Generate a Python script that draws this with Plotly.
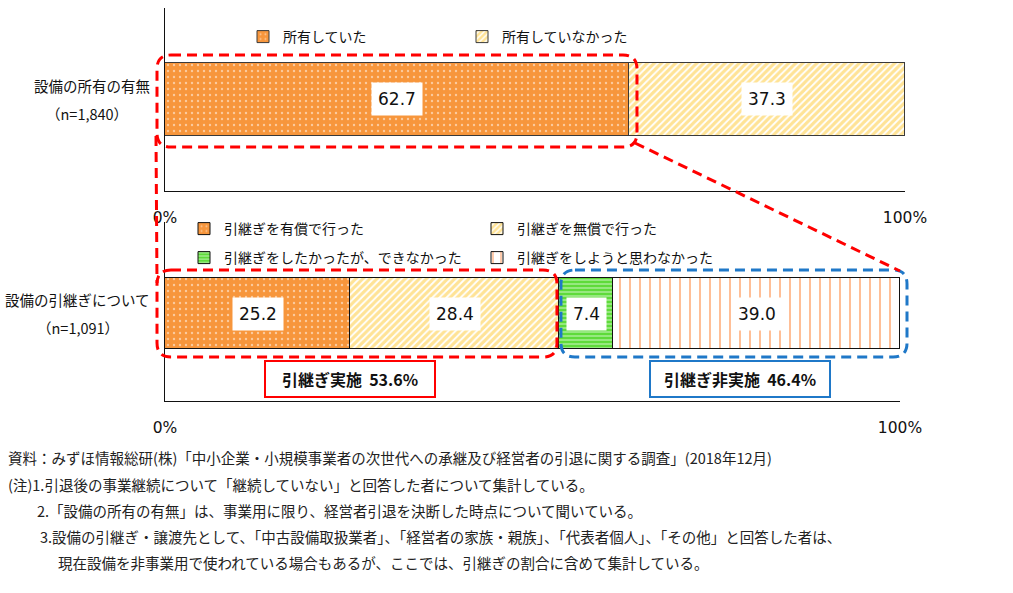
import plotly.graph_objects as go

W, H = 1013, 593

# ---------------- data ----------------
own_labels = ["所有していた", "所有していなかった"]
own_values = [62.7, 37.3]
succ_labels = ["引継ぎを有償で行った", "引継ぎを無償で行った",
               "引継ぎをしたかったが、できなかった", "引継ぎをしようと思わなかった"]
succ_values = [25.2, 28.4, 7.4, 39.0]
row_titles = ["設備の所有の有無", "設備の引継ぎについて"]
row_ns = ["（n=1,840）", "（n=1,091）"]
tick_vals = [0, 100]
tick_text = ["0%", "100%"]
group_titles = ["引継ぎ実施", "引継ぎ非実施"]
notes = [
    "資料：みずほ情報総研(株)「中小企業・小規模事業者の次世代への承継及び経営者の引退に関する調査」(2018年12月)",
    "(注)1.引退後の事業継続について「継続していない」と回答した者について集計している。",
    "2.「設備の所有の有無」は、事業用に限り、経営者引退を決断した時点について聞いている。",
    "3.設備の引継ぎ・譲渡先として、「中古設備取扱業者」、「経営者の家族・親族」、「代表者個人」、「その他」と回答した者は、",
    "現在設備を非事業用で使われている場合もあるが、ここでは、引継ぎの割合に含めて集計している。",
]

# ---------------- styles ----------------
JP = "Noto Sans CJK JP, Noto Sans, sans-serif"
NUM = "DejaVu Sans, Noto Sans CJK JP, sans-serif"
ORANGE = "#F7963C"
YELLOW = "#FFC82E"
GREEN = "#5EDB3A"
LINE_ORANGE = "#FF8030"
EDGE = "#3A3A3A"
RED = "#FF0000"
BLUE = "#1F78C8"

own_styles = [
    dict(color=ORANGE, pattern=dict(shape=".", bgcolor=ORANGE, fgcolor="white", size=6, solidity=0.12)),
    dict(color=YELLOW, pattern=dict(shape="/", bgcolor="white", fgcolor=YELLOW, size=5, solidity=0.65)),
]
succ_styles = [
    dict(color=ORANGE, pattern=dict(shape=".", bgcolor=ORANGE, fgcolor="white", size=6, solidity=0.12)),
    dict(color=YELLOW, pattern=dict(shape="/", bgcolor="white", fgcolor=YELLOW, size=5, solidity=0.65)),
    dict(color=GREEN, pattern=dict(shape="-", bgcolor=GREEN, fgcolor="white", size=4, solidity=0.35)),
    dict(color="white", pattern=dict(shape="|", bgcolor="white", fgcolor=LINE_ORANGE, size=10, solidity=0.2)),
]
succ_legends = ["legend2", "legend2", "legend3", "legend3"]


def px(x):
    return x / W


def py(y):
    return 1 - y / H


# plot area in pixels
TOP = dict(x0=165, x1=905, y0=8, y1=191)
BOT = dict(x0=165, x1=900, y0=222, y1=401)


def tx(v, area):
    return area["x0"] + v / 100 * (area["x1"] - area["x0"])


fig = go.Figure()

for lab, val, st in zip(own_labels, own_values, own_styles):
    fig.add_trace(go.Bar(
        x=[val], y=[0], orientation="h", name=lab, width=1,
        marker=dict(color=st["color"], pattern=st["pattern"], line=dict(color=EDGE, width=1)),
        xaxis="x", yaxis="y", legend="legend", hoverinfo="name+x",
    ))

for lab, val, st, lg in zip(succ_labels, succ_values, succ_styles, succ_legends):
    fig.add_trace(go.Bar(
        x=[val], y=[0], orientation="h", name=lab, width=1,
        marker=dict(color=st["color"], pattern=st["pattern"], line=dict(color="#111", width=1)),
        xaxis="x2", yaxis="y2", legend=lg, hoverinfo="name+x",
    ))

annotations = []


def add_value_labels(values, xref, yref):
    cum = 0
    for v in values:
        annotations.append(dict(
            x=cum + v / 2, y=0, xref=xref, yref=yref, text=f"{v:.1f}", showarrow=False,
            font=dict(family=NUM, size=17, color="#111"), bgcolor="white", borderpad=6,
        ))
        cum += v


add_value_labels(own_values, "x", "y")
add_value_labels(succ_values, "x2", "y2")

# row titles
for title, n, ymid, ncx in zip(row_titles, row_ns, [99.5, 313.5], [87, 78]):
    annotations.append(dict(x=px(152), y=py(ymid - 14), xref="paper", yref="paper", text=title,
                            showarrow=False, xanchor="right", yanchor="middle",
                            font=dict(family=JP, size=14.5, color="#111")))
    annotations.append(dict(x=px(ncx), y=py(ymid + 14), xref="paper", yref="paper", text=n,
                            showarrow=False, xanchor="center", yanchor="middle",
                            font=dict(family=JP, size=14.5, color="#111")))

# summary boxes
done = sum(succ_values[:2])
notdone = sum(succ_values[2:])
for title, val, col, cx, bw in zip(group_titles, [done, notdone], [RED, BLUE], [350, 740], [166, 176]):
    annotations.append(dict(
        x=px(cx), y=py(378.5), xref="paper", yref="paper",
        text=f"<b>{title}  {val:.1f}%</b>", showarrow=False,
        xanchor="center", yanchor="middle", width=bw, height=32,
        bordercolor=col, borderwidth=2, bgcolor="white",
        font=dict(family=JP, size=16, color="#111"),
    ))

# notes
note_pos = [(6, 457), (6, 484), (35, 510), (38, 536), (56, 562)]
for txt, (nx, ny) in zip(notes, note_pos):
    annotations.append(dict(x=px(nx), y=py(ny), xref="paper", yref="paper", text=txt,
                            showarrow=False, xanchor="left", yanchor="middle",
                            font=dict(family=JP, size=14.5, color="#222")))


def rrect(x0, y0, x1, y1, r):
    return (f"M {px(x0 + r)},{py(y0)} L {px(x1 - r)},{py(y0)} Q {px(x1)},{py(y0)} {px(x1)},{py(y0 + r)} "
            f"L {px(x1)},{py(y1 - r)} Q {px(x1)},{py(y1)} {px(x1 - r)},{py(y1)} "
            f"L {px(x0 + r)},{py(y1)} Q {px(x0)},{py(y1)} {px(x0)},{py(y1 - r)} "
            f"L {px(x0)},{py(y0 + r)} Q {px(x0)},{py(y0)} {px(x0 + r)},{py(y0)} Z")


DASH = "10px,6px"
r_top = (tx(0, TOP) - 8, 55, tx(own_values[0], TOP) + 8, 147)
r_bot = (tx(0, BOT) - 8, 270, tx(done, BOT) - 2, 357)
b_bot = (tx(done, BOT) + 2, 270, tx(100, BOT) + 7, 357)
shapes = []
for (x0, y0, x1, y1), col in [(r_top, RED), (r_bot, RED), (b_bot, BLUE)]:
    shapes.append(dict(type="path", path=rrect(x0, y0, x1, y1, 14), xref="paper", yref="paper",
                       line=dict(color=col, width=3, dash=DASH), layer="above"))
shapes.append(dict(type="line", xref="paper", yref="paper",
                   x0=px(r_top[2] - 2), y0=py(143), x1=px(b_bot[2] - 7), y1=py(271),
                   line=dict(color=RED, width=3, dash=DASH), layer="above"))
shapes.append(dict(type="line", xref="paper", yref="paper",
                   x0=px(r_top[0] - 1), y0=py(136), x1=px(r_bot[0]), y1=py(283),
                   line=dict(color=RED, width=3, dash=DASH), layer="above"))

top_half = 91.5 / 73
bot_lo, bot_hi = 87.5 / 71, 91.5 / 71

xax_common = dict(range=[0, 100], showline=True, linecolor="#111", linewidth=1, showgrid=False,
                  zeroline=False, ticks="inside", ticklen=5, tickcolor="#111", tickvals=tick_vals,
                  ticktext=tick_text, ticklabelstandoff=12, fixedrange=True, automargin=False,
                  tickfont=dict(family=NUM, size=15.5, color="#111"))

fig.update_layout(
    width=W, height=H, margin=dict(l=0, r=0, t=0, b=0, pad=0, autoexpand=False),
    paper_bgcolor="white", plot_bgcolor="white",
    barmode="stack", bargap=0,
    xaxis=dict(domain=[px(TOP["x0"]), px(TOP["x1"])], anchor="y", **xax_common),
    yaxis=dict(domain=[py(TOP["y1"]), py(TOP["y0"])], anchor="x", range=[-top_half, top_half],
               showline=True, linecolor="#111", linewidth=1, showgrid=False, zeroline=False,
               ticks="inside", ticklen=4, tickcolor="#111", tickvals=[top_half * 0.999],
               showticklabels=False, fixedrange=True, automargin=False),
    xaxis2=dict(domain=[px(BOT["x0"]), px(BOT["x1"])], anchor="y2", **xax_common),
    yaxis2=dict(domain=[py(BOT["y1"]), py(BOT["y0"])], anchor="x2", range=[-bot_lo, bot_hi],
                showline=True, linecolor="#111", linewidth=1, showgrid=False, zeroline=False,
                ticks="inside", ticklen=4, tickcolor="#111", tickvals=[bot_hi * 0.999],
                showticklabels=False, fixedrange=True, automargin=False),
    legend=dict(orientation="h", x=px(243), y=py(37), xanchor="left", yanchor="middle",
                entrywidth=174, entrywidthmode="pixels", bgcolor="rgba(0,0,0,0)",
                font=dict(family=JP, size=14, color="#111"), traceorder="normal"),
    legend2=dict(orientation="h", x=px(184), y=py(229), xanchor="left", yanchor="middle",
                 entrywidth=248, entrywidthmode="pixels", bgcolor="rgba(0,0,0,0)",
                 font=dict(family=JP, size=14, color="#111"), traceorder="normal"),
    legend3=dict(orientation="h", x=px(184), y=py(258), xanchor="left", yanchor="middle",
                 entrywidth=248, entrywidthmode="pixels", bgcolor="rgba(0,0,0,0)",
                 font=dict(family=JP, size=14, color="#111"), traceorder="normal"),
    annotations=annotations,
    shapes=shapes,
    showlegend=True,
)

fig.write_html("out.html", config={"displayModeBar": False},
               post_script="document.body.style.margin='0px';")
